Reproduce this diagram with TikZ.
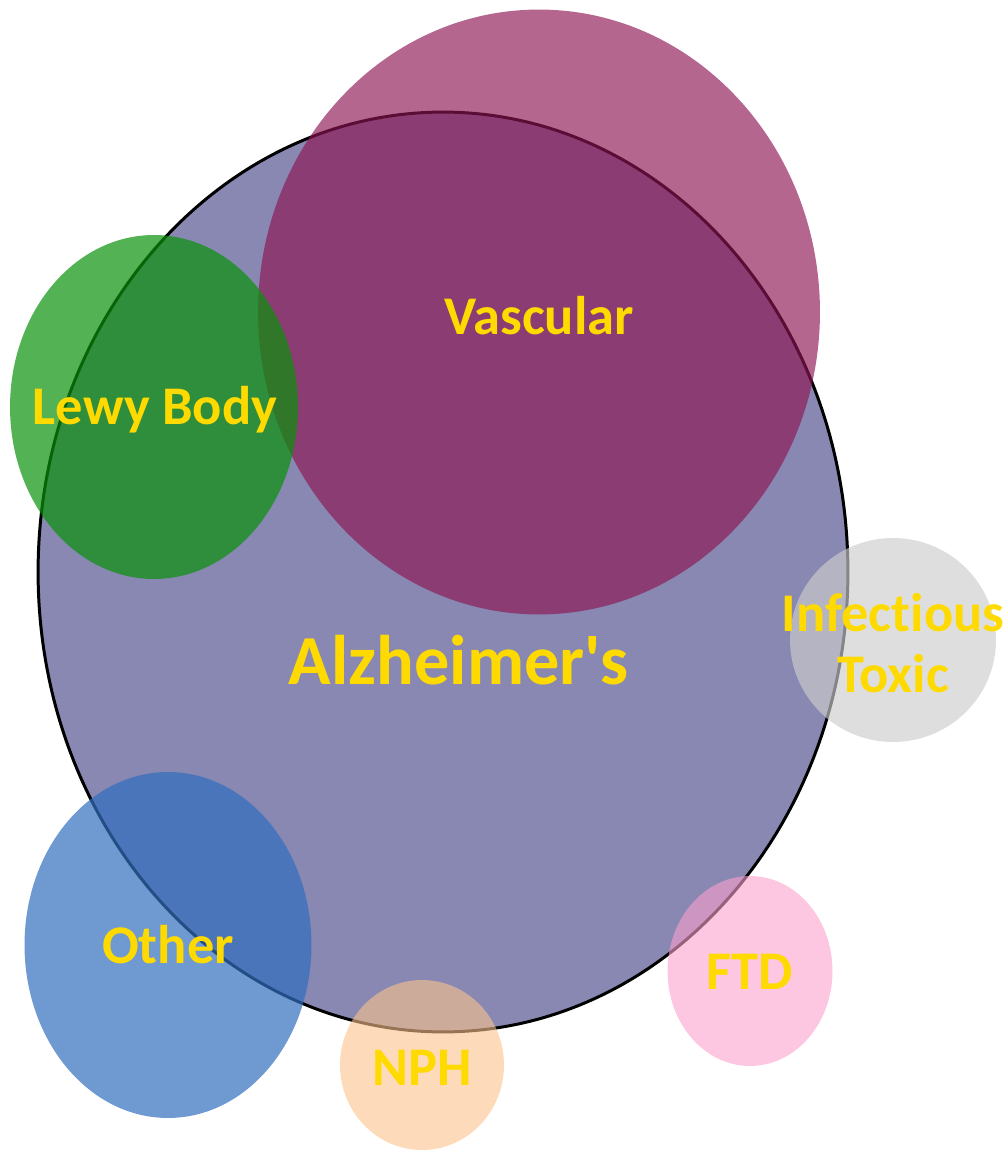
\documentclass[tikz,border=0pt]{standalone}
\usepackage{fontspec}
\setmainfont{Carlito}[Ligatures={TeXOff,NoCommon}]
\usepackage{tikz}
\usetikzlibrary{positioning, shapes.geometric}
\definecolor{AlzPurple}{RGB}{136, 136, 178}
\definecolor{VascPlum}{RGB}{140, 20, 82}
\definecolor{LewyGreen}{RGB}{10, 145, 10}
\definecolor{InfGray}{RGB}{205, 205, 205}
\definecolor{OtherBlue}{RGB}{50, 110, 190}
\definecolor{NPHPeach}{RGB}{252, 195, 140}
\definecolor{FTDPink}{RGB}{252, 160, 205}
\definecolor{LabelYellow}{RGB}{255, 218, 0}

\begin{document}
\begin{tikzpicture}[x=0.02cm, y=-0.02cm,
    blob/.style={ellipse, inner sep=0pt, outer sep=0pt},
    lbl/.style={text=LabelYellow, align=center,
      font=\bfseries\fontsize{31}{35}\selectfont}]
    \useasboundingbox (0,0) rectangle (1003,1151);
    % the big one
    \node[blob, fill=AlzPurple, draw=black, line width=1.7pt,
      minimum width=16.2cm, minimum height=18.4cm] (alz) at (443,572) {};
    % overlapping groups
    \node[blob, fill=VascPlum, fill opacity=0.65,
      minimum width=11.24cm, minimum height=12.1cm] (vasc) at (539,312) {};
    \node[blob, fill=LewyGreen, fill opacity=0.7,
      minimum width=5.76cm, minimum height=6.88cm] (lewy) at (154,407) {};
    \node[blob, fill=InfGray, fill opacity=0.65,
      minimum width=4.12cm, minimum height=4.08cm] (infect) at (893,640) {};
    \node[blob, fill=OtherBlue, fill opacity=0.7,
      minimum width=5.74cm, minimum height=6.92cm] (other) at (168,945) {};
    \node[blob, fill=NPHPeach, fill opacity=0.6,
      minimum width=3.28cm, minimum height=3.4cm] (nph) at (422,1065) {};
    \node[blob, fill=FTDPink, fill opacity=0.6,
      minimum width=3.3cm, minimum height=3.8cm] (ftd) at (750,971) {};
    % labels
    \node[lbl] (vascT) at (539,316) {Vascular};
    \node[lbl] (lewyT) at (155,410) {Lewy Body};
    \node[lbl, font=\bfseries\fontsize{40}{44}\selectfont] (alzT) at (459,660) {Alzheimer's};
    \node[lbl] (infectT) at (893,643) {Infectious\\Toxic};
    \node[lbl] (otherT) at (168,945) {Other};
    \node[lbl] (nphT) at (422,1068) {NPH};
    \node[lbl] (ftdT) at (750,972) {FTD};
\end{tikzpicture}
\end{document}
